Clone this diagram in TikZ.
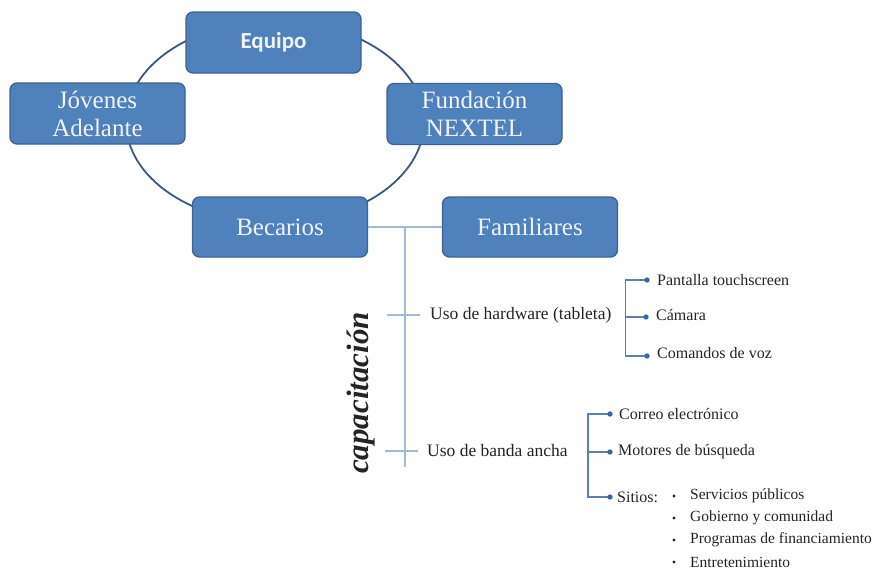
\documentclass[tikz,border=0pt]{standalone}
\usepackage{fontspec}
\setmainfont{Liberation Serif}
\newfontfamily\equipofont{Carlito}
\usetikzlibrary{calc}
\definecolor{cajaazul}{HTML}{4F81BD}
\definecolor{bordeazul}{HTML}{3A6392}
\definecolor{aro}{HTML}{3D5878}
\definecolor{ramal}{HTML}{A3B8D3}
\definecolor{corchete}{HTML}{5B7FB5}
\definecolor{punto}{HTML}{3D66A8}
\definecolor{letra}{HTML}{242424}
\definecolor{blanco}{HTML}{F0F4FA}
\begin{document}
\begin{tikzpicture}[x=1pt,y=-1pt,
  caja/.style={draw=bordeazul,line width=1.3pt,fill=cajaazul,rounded corners=7pt,
    minimum width=175pt,minimum height=61pt,inner sep=0pt,align=center,
    text=blanco,font=\fontsize{25}{28}\selectfont},
  tema/.style={anchor=west,inner sep=0pt,text=letra,font=\fontsize{17.5}{20}\selectfont},
  item/.style={anchor=west,inner sep=0pt,text=letra,font=\fontsize{16}{18}\selectfont},
  lista/.style={anchor=west,inner sep=0pt,text=letra,font=\fontsize{15.5}{17}\selectfont}]
\useasboundingbox (0,0) rectangle (876,570);
\fill[white] (0,0) rectangle (876,570);

% the ring behind the boxes
\draw[aro,line width=1.8pt] (275,122) ellipse [x radius=149,y radius=101];

\node[caja] (equipo) at (273.5,42.5) {\equipofont\bfseries\fontsize{23}{26}\selectfont Equipo};
\node[caja] (jovenes) at (97.5,113.5) {Jóvenes\\Adelante};
\node[caja] (fundacion) at (474.5,114) {Fundación\\NEXTEL};
\node[caja,minimum height=60pt] (becarios) at (280,227) {Becarios};
\node[caja,minimum height=60pt] (familiares) at (530,227) {Familiares};

% trunk
\draw[ramal,line width=1.5pt] (becarios) -- (familiares);
\coordinate (tronco) at ($(becarios.east)!0.5!(familiares.west)$);
\draw[ramal,line width=1.5pt] (tronco) -- ++(0,240);
\node[rotate=90,text=letra,font=\bfseries\itshape\fontsize{31}{33}\selectfont] (capacitacion) at (361,393) {capacitación};

\node[tema] (hardware) at (430,315) {Uso de hardware (tableta)};
\node[tema] (banda) at (427,451) {Uso de banda ancha};
\draw[ramal,line width=1.3pt] ($(hardware.west -| tronco)+(-18,0)$) -- ($(hardware.west)+(-10,0)$);
\draw[ramal,line width=1.3pt] ($(banda.west -| tronco)+(-20,0)$) -- ($(banda.west)+(-9,0)$);

% hardware
\coordinate (h1) at (647,280);
\coordinate (h2) at (646,317);
\coordinate (h3) at (647,356);
\coordinate (hc) at ($(hardware.east)+(14,0)$);
\draw[corchete,line width=1.2pt] (h1) -- (h1 -| hc) -- (h3 -| hc) -- (h3);
\draw[corchete,line width=1.2pt] (hc |- h2) -- (h2);
\node[item] (pantalla) at (657,280) {Pantalla touchscreen};
\node[item] (camara) at (656,315) {Cámara};
\node[item] (comandos) at (657,353) {Comandos de voz};

% banda ancha
\coordinate (b1) at (610,414);
\coordinate (b2) at (610,452);
\coordinate (b3) at (610,497);
\coordinate (bc) at (588,452);
\draw[corchete,line width=1.2pt] (b1) -- (b1 -| bc) -- (b3 -| bc) -- (b3);
\draw[corchete,line width=1.2pt] (bc) -- (b2);
\node[item] (correo) at (619,414) {Correo electrónico};
\node[item] (motores) at (618,452) {Motores de búsqueda};
\node[item] (sitios) at (617,497) {Sitios:};

\foreach \p in {h1,h2,h3,b1,b2,b3}
  \fill[punto] (\p) circle (2.7);

\foreach \txt [count=\i from 0] in {Servicios públicos,Gobierno y comunidad,Programas de financiamiento,Entretenimiento} {
  \node[lista] (sitio\i) at (690,496+22*\i) {\txt};
  \fill[letra] (674,496+22*\i) circle (1.7);
}
\end{tikzpicture}
\end{document}
